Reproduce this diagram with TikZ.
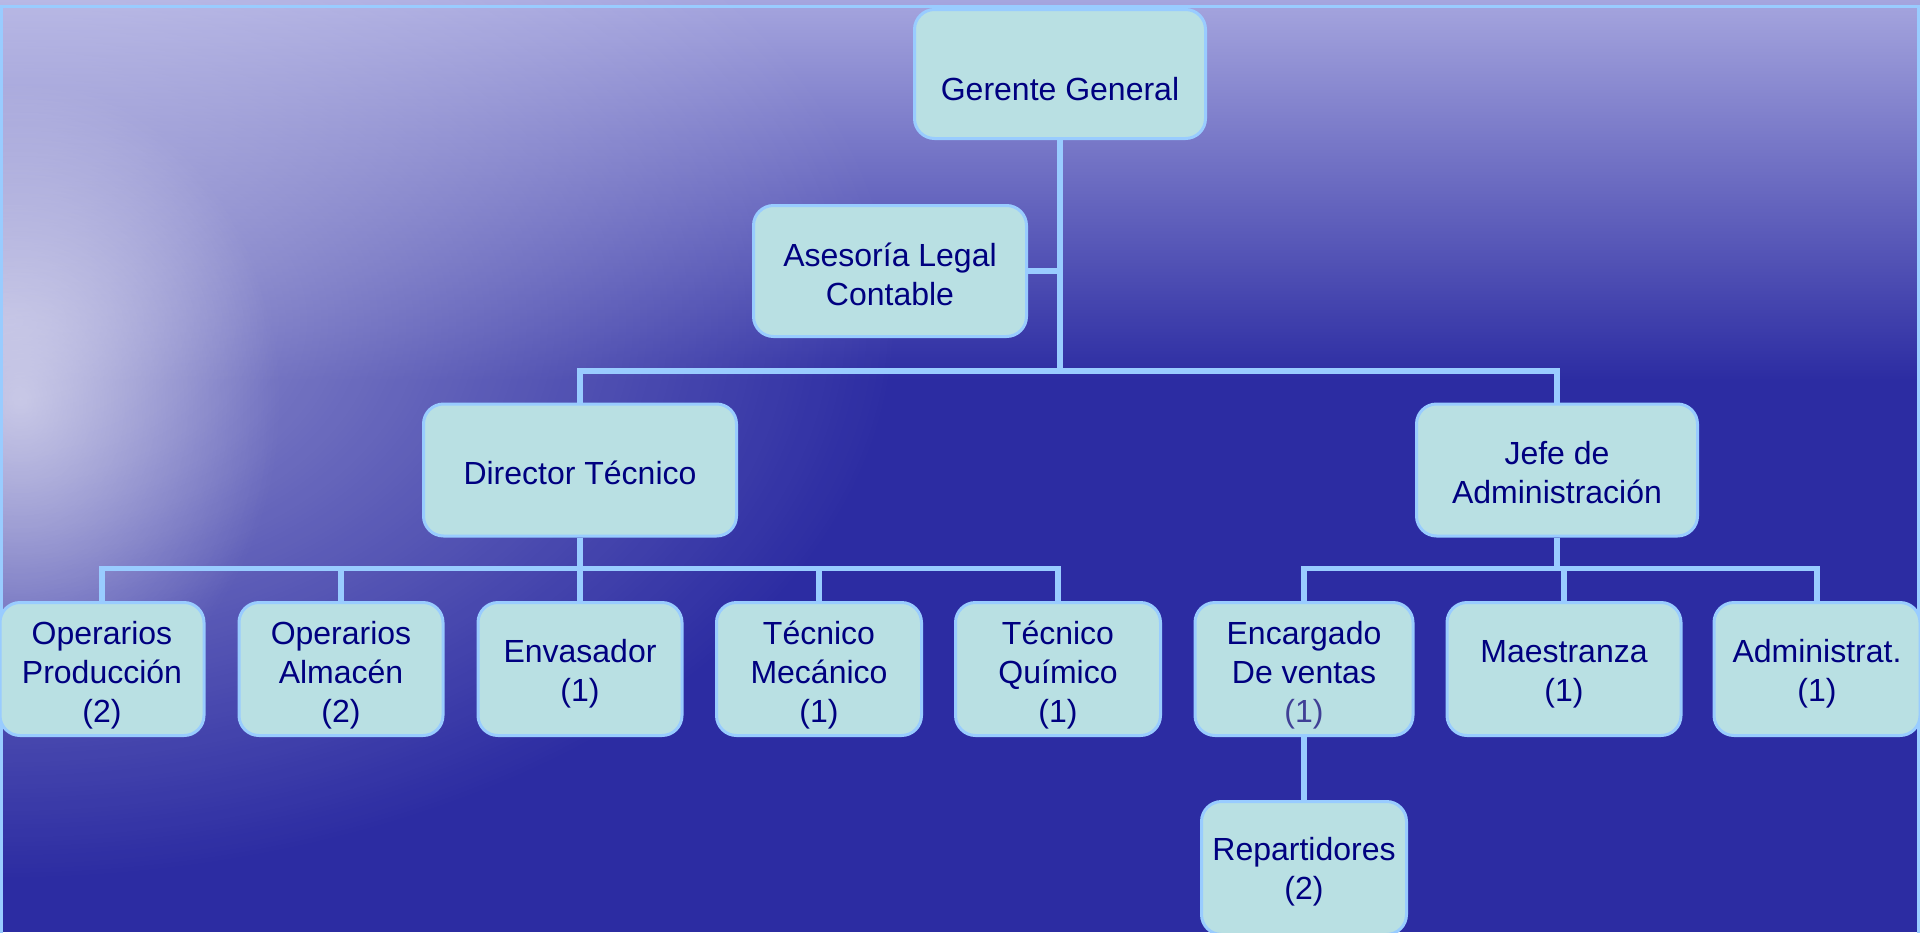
\documentclass[tikz,border=0pt]{standalone}
\usepackage{fontspec}
\setmainfont{Liberation Sans}
\usetikzlibrary{fadings}
\definecolor{seablue}{RGB}{44,44,162}
\definecolor{midblue}{RGB}{80,80,188}
\definecolor{skylav}{RGB}{165,165,222}
\definecolor{boxfill}{RGB}{185,224,227}
\definecolor{boxline}{RGB}{153,204,255}
\definecolor{navytext}{RGB}{0,0,128}
\definecolor{greytext}{RGB}{64,64,150}
\tikzfading[name=glowfade, inner color=transparent!0, outer color=transparent!100]
\newcommand{\pad}[1]{\rule{0pt}{#1pt}}
\begin{document}
\begin{tikzpicture}[x=1pt,y=-1pt,
    unit/.style={draw=boxline,line width=3pt,fill=boxfill,rounded corners=20pt,
      inner sep=0pt,align=center,text=navytext,font=\fontsize{32}{39}\selectfont},
    staff/.style={unit,minimum height=133pt},
    link/.style={boxline,line width=5.5pt}]
  % background
  \useasboundingbox (0,0) rectangle (1920,932);
  \fill[seablue] (0,0) rectangle (1920,932);
  \shade[top color=skylav,middle color=midblue,bottom color=seablue] (0,0) rectangle (1920,380);
  \fill[white,opacity=0.5,path fading=glowfade] (0,320) ellipse [x radius=900pt,y radius=560pt];
  \fill[white,opacity=0.55,path fading=glowfade] (20,400) ellipse [x radius=260pt,y radius=320pt];
  \draw[boxline,line width=3pt] (1.5,940) -- (1.5,6) -- (1918.5,6) -- (1918.5,940);
  % top levels
  \node[unit,minimum width=291pt,minimum height=129pt] (gg) at (1060,74) {\pad{53}Gerente General};
  \node[unit,minimum width=273pt,minimum height=131pt] (ase) at (890,271) {\pad{31}Asesoría Legal\\Contable};
  \node[unit,minimum width=313pt,minimum height=132pt] (dir) at (580,470) {\pad{28.5}Director Técnico};
  \node[unit,minimum width=281pt,minimum height=132pt] (jefe) at (1557,470) {\pad{28.5}Jefe de\\Administración};
  % staff
  \node[staff,minimum width=204pt] (opro) at (102,669) {\pad{35}Operarios\\Producción\\(2)};
  \node[staff,minimum width=204pt] (oalm) at (341,669) {\pad{35}Operarios\\Almacén\\(2)};
  \node[staff,minimum width=204pt] (env) at (580,669) {\pad{33.5}Envasador\\(1)};
  \node[staff,minimum width=205pt] (tmec) at (819,669) {\pad{35}Técnico\\Mecánico\\(1)};
  \node[staff,minimum width=205pt] (tqui) at (1058,669) {\pad{35}Técnico\\Químico\\(1)};
  \node[staff,minimum width=218pt] (enc) at (1304,669) {\pad{35}Encargado\\De ventas\\{\color{greytext}(1)}};
  \node[staff,minimum width=234pt] (mae) at (1564,669) {\pad{33.5}Maestranza\\(1)};
  \node[staff,minimum width=206pt] (adm) at (1817,669) {\pad{33.5}Administrat.\\(1)};
  \node[staff,minimum width=205pt] (rep) at (1304,868) {\pad{31}Repartidores\\(2)};
  % links
  \draw[link] (gg.south) -- ++(0,231) -| (dir.north);
  \draw[link] (gg.south) -- ++(0,231) -| (jefe.north);
  \draw[link] (ase.east) -- (ase.east -| gg.south);
  \foreach \c in {opro,oalm,env,tmec,tqui}
    \draw[link] (dir.south) -- ++(0,31) -| (\c.north);
  \foreach \c in {enc,mae,adm}
    \draw[link] (jefe.south) -- ++(0,31) -| (\c.north);
  \draw[link] (enc.south) -- (rep.north);
\end{tikzpicture}
\end{document}
